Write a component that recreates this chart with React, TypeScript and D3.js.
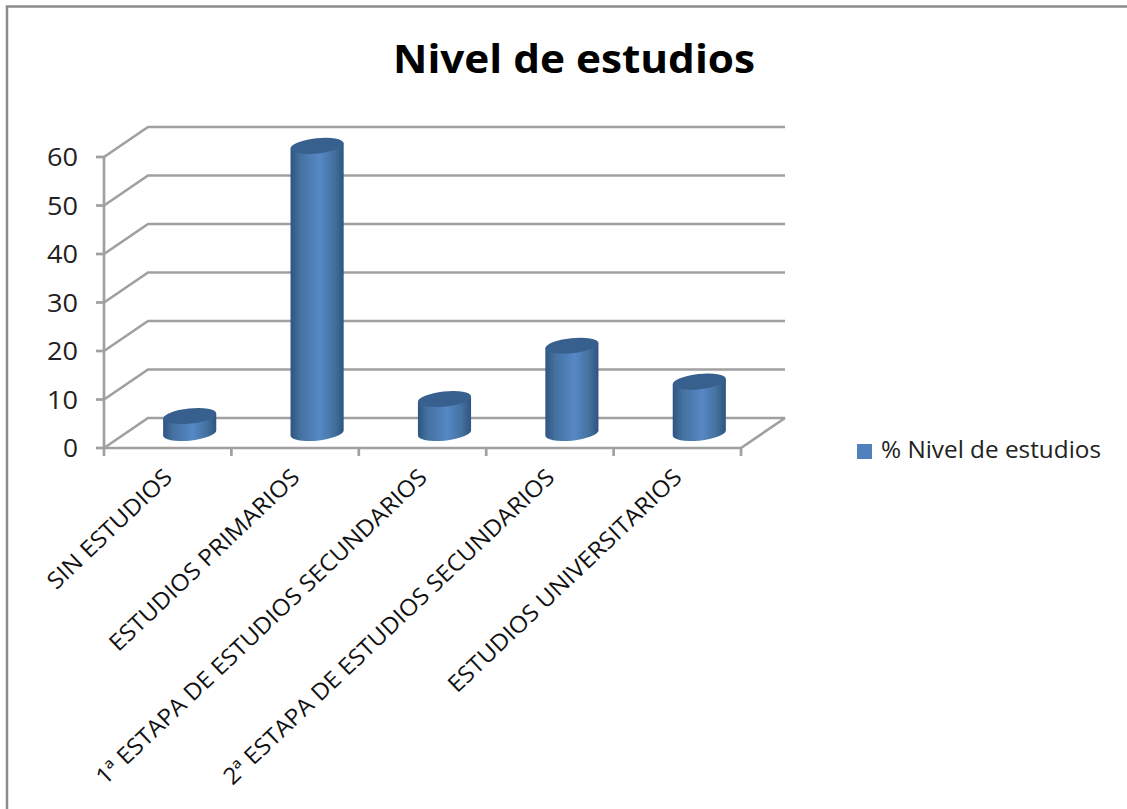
import React from "react";
import * as d3 from "d3";

const categories = [
  "SIN ESTUDIOS",
  "ESTUDIOS PRIMARIOS",
  "1ª ESTAPA DE ESTUDIOS SECUNDARIOS",
  "2ª ESTAPA DE ESTUDIOS SECUNDARIOS",
  "ESTUDIOS UNIVERSITARIOS",
];
const values = [3.5, 59.2, 7, 18, 10.6];
const yTicks = [0, 10, 20, 30, 40, 50, 60];
const labelLengths = [162, 252, 446, 446, 312];
const seriesName = "% Nivel de estudios";
const chartTitle = "Nivel de estudios";

const FONT = "'Open Sans', 'Noto Sans', sans-serif";
const GRID = "#a0a0a0";
const depthX = 44;
const depthY = -30;
const capA = 26.7;
const capB = 7.6;
const capTilt = -6;

// Vertical tangent points of the tilted elliptical cap, relative to its centre.
function capExtreme(a: number, b: number, deg: number) {
  const t = (deg * Math.PI) / 180;
  const th = Math.atan2(-b * Math.sin(t), a * Math.cos(t));
  return {
    ex: a * Math.cos(t) * Math.cos(th) - b * Math.sin(t) * Math.sin(th),
    ey: a * Math.sin(t) * Math.cos(th) + b * Math.cos(t) * Math.sin(th),
  };
}

export default function App() {
  const x = d3.scaleBand<string>().domain(categories).range([104, 741]);
  const y = d3.scaleLinear().domain([0, 60]).range([448, 157]);
  const tickXs = d3.range(categories.length + 1).map((i) => 104 + i * x.step());
  const { ex, ey } = capExtreme(capA, capB, capTilt);

  return (
    <svg
      width={1127}
      height={809}
      style={{ position: "absolute", left: 0, top: 0, background: "#fff" }}
    >
      <defs>
        <linearGradient id="cyl" x1="0" x2="1" y1="0" y2="0">
          <stop offset="0" stopColor="#2f5480" />
          <stop offset="0.18" stopColor="#44719f" />
          <stop offset="0.55" stopColor="#5688c6" />
          <stop offset="0.82" stopColor="#44719f" />
          <stop offset="1" stopColor="#2f5480" />
        </linearGradient>
      </defs>

      {/* outer frame */}
      <path d="M7 809V6.5H1127" fill="none" stroke="#8c8c8c" strokeWidth={2.5} />

      <text
        x={574}
        y={73}
        textAnchor="middle"
        fontFamily={FONT}
        fontWeight={700}
        fontSize={40}
        textLength={362}
        lengthAdjust="spacingAndGlyphs"
        fill="#000"
      >
        {chartTitle}
      </text>

      {/* walls: side and back gridlines */}
      <g fill="none" stroke={GRID} strokeWidth={2.7}>
        {yTicks.map((t) => (
          <path
            key={t}
            d={`M104 ${y(t)}L${104 + depthX} ${y(t) + depthY}H785`}
          />
        ))}
        <path d={`M785 ${y(0) + depthY}L741 ${y(0)}`} />
        <path d={`M104 ${y(60)}V${y(0)}H741`} />
        {yTicks.map((t) => (
          <path key={t} d={`M96 ${y(t)}H104`} />
        ))}
        {tickXs.map((t) => (
          <path key={t} d={`M${t} ${y(0)}V456`} />
        ))}
      </g>

      {yTicks.map((t) => (
        <text
          key={t}
          x={78}
          y={y(t) + 9}
          textAnchor="end"
          fontFamily={FONT}
          fontSize={25}
          textLength={t === 0 ? 15 : 31}
          lengthAdjust="spacingAndGlyphs"
          fill="#222"
        >
          {t}
        </text>
      ))}

      {/* cylinders */}
      {categories.map((c, i) => {
        const cx = (x(c) as number) + x.bandwidth() / 2 + depthX / 2;
        const base = y(0) + depthY / 2;
        const top = base - (y(0) - y(values[i]));
        const body =
          `M${cx - ex} ${top - ey}` +
          `L${cx - ex} ${base - ey}` +
          `A${capA} ${capB} ${capTilt} 0 0 ${cx + ex} ${base + ey}` +
          `L${cx + ex} ${top + ey}Z`;
        return (
          <g key={c}>
            <path d={body} fill="url(#cyl)" />
            <ellipse
              cx={cx}
              cy={top}
              rx={capA}
              ry={capB}
              transform={`rotate(${capTilt} ${cx} ${top})`}
              fill="#37608f"
            />
          </g>
        );
      })}

      {/* rotated category labels */}
      {categories.map((c, i) => {
        const cx = (x(c) as number) + x.bandwidth() / 2;
        return (
          <text
            key={c}
            transform={`translate(${cx + 6} ${479}) rotate(-43.5)`}
            textAnchor="end"
            fontFamily={FONT}
            fontSize={23}
            textLength={labelLengths[i]}
            lengthAdjust="spacingAndGlyphs"
            fill="#111"
          >
            {c}
          </text>
        );
      })}

      {/* legend */}
      <rect x={857} y={444} width={15} height={15} fill="#4f81bd" />
      <text
        x={881}
        y={458}
        fontFamily={FONT}
        fontSize={23}
        textLength={220}
        lengthAdjust="spacingAndGlyphs"
        fill="#222"
      >
        {seriesName}
      </text>
    </svg>
  );
}
